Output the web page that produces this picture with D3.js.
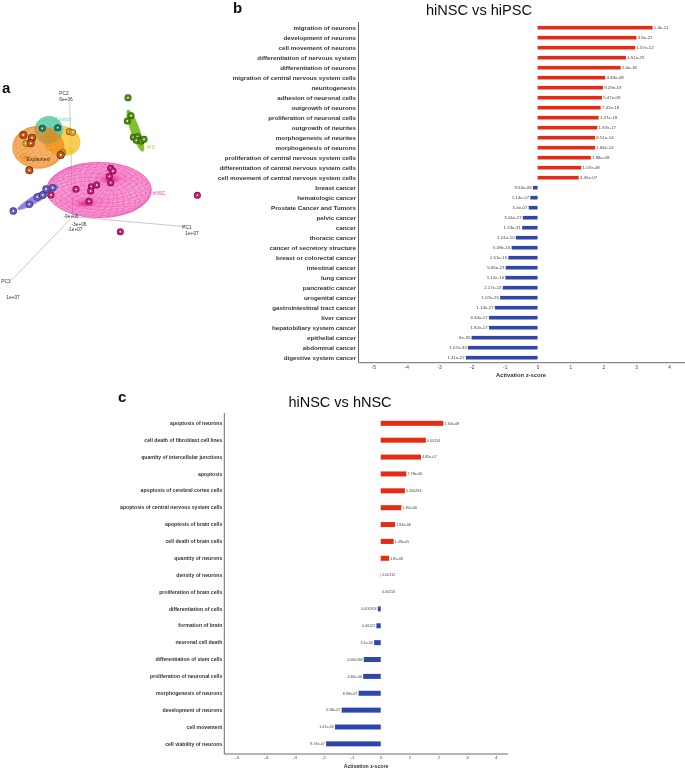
<!DOCTYPE html>
<html><head><meta charset="utf-8">
<script src="https://cdn.jsdelivr.net/npm/d3@7"></script>
<style>html,body{margin:0;padding:0;background:#fff}svg{display:block}text{font-family:"Liberation Sans",Arial,sans-serif}</style>
</head><body><svg id="c" width="685" height="769"></svg>
<script>
// ---------- Panel b data ----------
const bCategories = ["migration of neurons","development of neurons","cell movement of neurons","differentiation of nervous system","differentiation of neurons","migration of central nervous system cells","neuritogenesis","adhesion of neuronal cells","outgrowth of neurons","proliferation of neuronal cells","outgrowth of neurites","morphogenesis of neurites","morphogenesis of neurons","proliferation of central nervous system cells","differentiation of central nervous system cells","cell movement of central nervous system cells","breast cancer","hematologic cancer","Prostate Cancer and Tumors","pelvic cancer","cancer","thoracic cancer","cancer of secretory structure","breast or colorectal cancer","intestinal cancer","lung cancer","pancreatic cancer","urogenital cancer","gastrointestinal tract cancer","liver cancer","hepatobiliary system cancer","epithelial cancer","abdominal cancer","digestive system cancer"];
const bValues = [3.5,3.01,2.97,2.69,2.53,2.06,1.99,1.96,1.92,1.86,1.82,1.75,1.75,1.62,1.33,1.25,-0.14,-0.22,-0.27,-0.45,-0.47,-0.66,-0.79,-0.89,-0.97,-0.98,-1.06,-1.14,-1.30,-1.48,-1.48,-2.01,-2.12,-2.18];
const bPvalues = ["1.4e-11","4.8e-27","1.57e-12","4.51e-25","2.4e-18","4.49e-08","8.29e-19","5.47e-09","7.41e-18","1.47e-18","1.87e-17","8.51e-14","1.84e-14","1.98e-08","1.07e-08","3.45e-07","9.53e-08","1.14e-07","5.4e-07","3.04e-27","1.23e-31","1.01e-10","5.08e-16","1.51e-15","5.65e-23","1.12e-10","2.17e-13","1.07e-25","1.14e-27","6.34e-17","1.82e-17","6e-35","1.07e-33","1.41e-27"];
// ---------- Panel c data ----------
const cCategories = ["apoptosis of neurons","cell death of fibroblast cell lines","quantity of intercellular junctions","apoptosis","apoptosis of cerebral cortex cells","apoptosis of central nervous system cells","apoptosis of brain cells","cell death of brain cells","quantity of neurons","density of neurons","proliferation of brain cells","differentiation of cells","formation of brain","neuronal cell death","differentiation of stem cells","proliferation of neuronal cells","morphogenesis of neurons","development of neurons","cell movement","cell viability of neurons"];
const cValues = [2.18,1.57,1.40,0.89,0.84,0.72,0.50,0.45,0.29,0.01,0,-0.10,-0.15,-0.23,-0.59,-0.61,-0.77,-1.36,-1.59,-1.90];
const cPvalues = ["1.63e-08","0.00114","4.85e-07","7.78e-06","0.000294","1.82e-06","1.84e-06","1.09e-05","1.8e-08","0.00112","0.00116","0.000703","0.00122","3.1e-06","0.000248","4.46e-06","8.99e-07","4.58e-07","1.41e-03","9.37e-07"];
const zTicks = [-5,-4,-3,-2,-1,0,1,2,3,4];
// ---------- Panel a data (projected PCA scores) ----------
const pcaControl = [[127,160],[173,158]];
const pcaExplanted = [[70,180],[96,188],[92,205],[182,240],[88,286]];
const pcaGold = [[78,205],[208,170],[218,172],[188,232]];
const pcaIPS = [[384,68],[393,122],[382,138],[400,187],[412,185],[409,196],[424,198],[432,193]];
const pcaPurple = [[40,408],[88,388],[112,366],[128,360],[138,342],[158,338]];
const pcaHNSC = [[153,360],[228,343],[274,335],[272,348],[290,330],[332,280],[339,288],[328,304],[332,323],[267,379],[592,361],[361,470]];
// cx, cy, rx, ry, rotation, pole dx, pole dy
const ellipsoidOrange = [115,217,77,63,0,40,-30];
const ellipsoidGold = [185,197,56,44,15,30,30];
const ellipsoidTeal = [146,165,42,41,-30,0,0];
const ellipsoidPink = [297,345,157,83,0,37,-36];
const ellipsoidPurple = [114,368,70,11,-30,0,0];
const ellipsoidGreen = [406,167,66,13,70,0,0];

const svg = d3.select("#c");
const defs = svg.append("defs");
const soft = defs.append("filter").attr("id","soft").attr("x","-5%").attr("y","-5%").attr("width","110%").attr("height","110%");
soft.append("feGaussianBlur").attr("stdDeviation",0.32);
const root = svg.append("g").attr("filter","url(#soft)");

function barPanel(o){
  const g = root.append("g");
  const x = d3.scaleLinear().domain([-5,4]).range(o.xr);
  const y = d3.scaleBand().domain(o.cats).range(o.yr);
  g.selectAll("rect.b").data(o.vals).join("rect").attr("class","b")
    .attr("x",d=>Math.min(x(0),x(d))).attr("width",d=>Math.abs(x(d)-x(0)))
    .attr("y",(d,i)=>y(o.cats[i])+y.bandwidth()/2-o.bh/2).attr("height",o.bh)
    .attr("fill",d=>d>=0?"#e52b12":"#2f47a8");
  g.selectAll("text.p").data(o.pv).join("text").attr("class","p")
    .attr("x",(d,i)=>x(o.vals[i])+(o.vals[i]>=0?1.2:-1.2))
    .attr("y",(d,i)=>y(o.cats[i])+y.bandwidth()/2)
    .attr("dy","0.35em").attr("text-anchor",(d,i)=>o.vals[i]>=0?"start":"end")
    .attr("font-size",o.pfs).attr("fill","#444").text(d=>d);
  // category axis
  const ya = g.append("g").attr("transform",`translate(${o.axisX},0)`)
    .call(d3.axisLeft(y).tickSize(0).tickPadding(o.lp));
  ya.select(".domain").remove();
  ya.selectAll("text").attr("font-size",o.lfs).attr("font-weight","bold").attr("fill","#333").style("font-family",'"Liberation Sans",Arial,sans-serif');
  // z-score axis
  const xa = g.append("g").attr("transform",`translate(0,${o.axisY})`)
    .call(d3.axisBottom(x).tickValues(zTicks).tickSize(0).tickPadding(o.tp).tickFormat(String));
  xa.select(".domain").remove();
  xa.selectAll("text").attr("font-size",o.tfs).attr("fill","#444").style("font-family",'"Liberation Sans",Arial,sans-serif');
  g.append("path").attr("d",`M${o.axisX},${o.axisTop}V${o.axisY}H${o.axisEnd}`).attr("fill","none").attr("stroke","#6a6a6a").attr("stroke-width",1);
  g.append("text").attr("x",o.atx).attr("y",o.aty).attr("text-anchor","middle").attr("font-size",o.afs).attr("font-weight","bold").attr("fill","#333").text("Activation z-score");
  g.append("text").attr("x",o.titleX).attr("y",o.titleY).attr("text-anchor","middle").attr("font-size",o.titleFs).attr("fill","#111").text(o.title);
}
barPanel({cats:bCategories,vals:bValues,pv:bPvalues,xr:[373.3,669],yr:[22.7,362.7],bh:3.6,pfs:4.4,lfs:6.25,lp:2.5,tp:2.5,tfs:4.8,afs:5.8,
  axisX:358.5,axisY:362.7,axisTop:22,axisEnd:685,atx:521,aty:377,titleX:479,titleY:15,titleFs:14.6,title:"hiNSC vs hiPSC"});
barPanel({cats:cCategories,vals:cValues,pv:cPvalues,xr:[237,495.7],yr:[414.9,752.3],bh:5,pfs:3.7,lfs:5.15,lp:2,tp:2,tfs:4.4,afs:5.2,
  axisX:224.3,axisY:754,axisTop:413,axisEnd:508,atx:366,aty:767.5,titleX:340,titleY:407,titleFs:14.5,title:"hiNSC vs hNSC"});

// panel letters
[["a",2,93],["b",233,13],["c",118,402]].forEach(([t,x,y])=>root.append("text").attr("x",x).attr("y",y).attr("font-size",15).attr("font-weight","bold").attr("fill","#111").text(t));

// ---------- Panel a ----------
const pa = root.append("g");
const sx = d3.scaleLinear().domain([0,690]).range([0,230]);
const sy = d3.scaleLinear().domain([0,720]).range([75,315]);
const axisLines = [[[209,82],[218,425]],[[218,425],[555,455]],[[218,425],[35,615]]];
pa.selectAll("line.ax").data(axisLines).join("line").attr("class","ax")
  .attr("x1",d=>sx(d[0][0])).attr("y1",d=>sy(d[0][1])).attr("x2",d=>sx(d[1][0])).attr("y2",d=>sy(d[1][1]))
  .attr("stroke","#bdbdbd").attr("stroke-width",0.8);
function ellipsoid(e,color,fillOp,mesh,id){
  const [cx,cy,rx,ry,rot,px,py]=e;
  const a=rot*Math.PI/180;
  const P=(ph,th)=>{
    const u=Math.sin(ph)*rx*Math.cos(th), v=Math.sin(ph)*ry*Math.sin(th);
    return [sx(cx+Math.cos(ph)*px+u*Math.cos(a)-v*Math.sin(a)), sy(cy+Math.cos(ph)*py+u*Math.sin(a)+v*Math.cos(a))];
  };
  const g=pa.append("g");
  const outline=[];
  for(let t=0;t<=72;t++){const th=t/72*2*Math.PI,u=rx*Math.cos(th),v=ry*Math.sin(th);outline.push([sx(cx+u*Math.cos(a)-v*Math.sin(a)),sy(cy+u*Math.sin(a)+v*Math.cos(a))]);}
  const ln=d3.line();
  defs.append("clipPath").attr("id",id).append("path").attr("d",ln(outline)+"Z");
  g.append("path").attr("d",ln(outline)+"Z").attr("fill",color).attr("fill-opacity",fillOp).attr("stroke",color).attr("stroke-width",0.5);
  if(mesh){
    const mg=g.append("g").attr("clip-path",`url(#${id})`).attr("fill","none").attr("stroke",color).attr("stroke-width",0.35).attr("stroke-opacity",0.85);
    for(let i=1;i<mesh;i++){const ph=i/mesh*Math.PI;mg.append("path").attr("d",ln(d3.range(0,61).map(t=>P(ph,t/60*2*Math.PI))));}
    for(let j=0;j<mesh*2;j++){const th=j/(mesh*2)*2*Math.PI;mg.append("path").attr("d",ln(d3.range(0,41).map(t=>P(t/40*Math.PI,th))));}
  }
}
ellipsoid(ellipsoidGold,"#f6c22c",0.7,14,"e1");
ellipsoid(ellipsoidTeal,"#55cba2",0.85,0,"e3");
ellipsoid(ellipsoidOrange,"#ee8418",0.55,16,"e2");
ellipsoid(ellipsoidPink,"#ee3aa6",0.45,22,"e4");
ellipsoid(ellipsoidPurple,"#7d6fe0",0.85,0,"e5");
ellipsoid(ellipsoidGreen,"#74b81a",0.9,0,"e6");
// pole shading on the pink ellipsoid
const poles=[[330,316],[257,388]];
defs.append("radialGradient").attr("id","pole").selectAll("stop").data([[0,0.75],[1,0]]).join("stop").attr("offset",d=>d[0]).attr("stop-color","#d81a8a").attr("stop-opacity",d=>d[1]);
pa.selectAll("ellipse.pl").data(poles).join("ellipse").attr("class","pl").attr("cx",d=>sx(d[0])).attr("cy",d=>sy(d[1])).attr("rx",11).attr("ry",3.5).attr("fill","url(#pole)");

function spheres(pts,color,dark,id,r){
  const gr=defs.append("radialGradient").attr("id",id);
  [[0,"#fff"],[0.12,"#fff"],[0.35,color],[0.72,color],[1,dark]].forEach(s=>gr.append("stop").attr("offset",s[0]).attr("stop-color",s[1]));
  pa.append("g").selectAll("circle").data(pts).join("circle").attr("cx",d=>sx(d[0])).attr("cy",d=>sy(d[1])).attr("r",r).attr("fill",`url(#${id})`);
}
spheres(pcaGold,"#d8a015","#6b4c05","sg",3.4);
spheres(pcaExplanted,"#c9520f","#4a1c02","so",4);
spheres(pcaControl,"#14806a","#063a30","st",3.5);
spheres(pcaIPS,"#4c8f10","#1f3f05","si",3.5);
spheres(pcaPurple,"#6a5cc0","#2c2560","sp",3.7);
spheres(pcaHNSC,"#c81a78","#5a0735","sh",3.5);

const paLabels=[["PC2",64,95,"#333"],["6e+06",66,101,"#333"],["-9e+06",71,217.5,"#333"],["-3e+06",79,225.5,"#333"],["-1e+07",75,230.5,"#333"],["PC1",187,229,"#333"],["1e+07",192,235,"#333"],["PC3",6,283,"#333"],["1e+07",13,299,"#333"]];
pa.selectAll("text.l").data(paLabels).join("text").attr("class","l").attr("x",d=>d[1]).attr("y",d=>d[2]).attr("text-anchor","middle").attr("font-size",4.8).attr("fill",d=>d[3]).text(d=>d[0]);
const groupLabels=[["Control",63,121,"#5fd6ae",4.8],["Explanted",38,161,"#3a2a10",5.2],["iPS",151,149,"#a6d23a",4.8],["hNSC",159,195,"#ee3aa6",4.8]];
pa.selectAll("text.g").data(groupLabels).join("text").attr("class","g").attr("x",d=>d[1]).attr("y",d=>d[2]).attr("text-anchor","middle").attr("font-size",d=>d[4]).attr("fill",d=>d[3]).text(d=>d[0]);
</script></body></html>
